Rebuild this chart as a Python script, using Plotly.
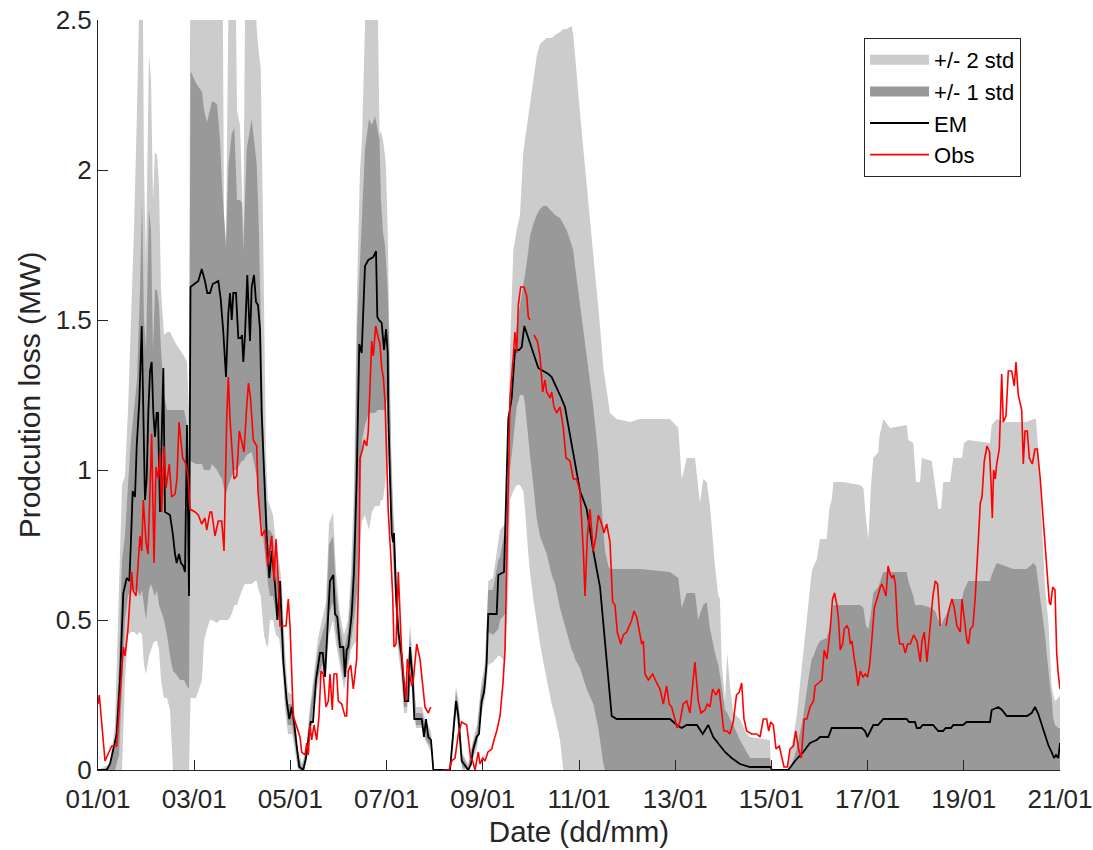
import plotly.graph_objects as go

# ---------------- data (x in days since 01/01, values in MW) ----------------
tick_days = [0, 2, 4, 6, 8, 10, 12, 14, 16, 18, 20]
tick_labels = ["01/01", "03/01", "05/01", "07/01", "09/01", "11/01",
               "13/01", "15/01", "17/01", "19/01", "21/01"]

em_day = [0, 0.181, 0.249, 0.353, 0.389, 0.457, 0.526, 0.597, 0.651, 0.680, 0.721, 0.769, 0.805, 0.859,
          0.909, 0.977, 1.012, 1.046, 1.081, 1.116, 1.150, 1.185, 1.220, 1.247, 1.289, 1.358, 1.393, 1.497,
          1.553, 1.601, 1.636, 1.684, 1.726, 1.773, 1.809, 1.850, 1.892, 1.923, 2.017, 2.085, 2.156, 2.224,
          2.272, 2.328, 2.385, 2.501, 2.551, 2.605, 2.661, 2.709, 2.744, 2.780, 2.813, 2.869, 2.917, 2.973,
          2.994, 3.021, 3.056, 3.104, 3.160, 3.195, 3.243, 3.285, 3.326, 3.368, 3.403, 3.451, 3.507, 3.561,
          3.611, 3.680, 3.728, 3.784, 3.819, 3.852, 3.923, 3.977, 4.027, 4.075, 4.131, 4.185, 4.268, 4.324,
          4.372, 4.422, 4.470, 4.532, 4.615, 4.672, 4.719, 4.767, 4.823, 4.892, 4.927, 4.975, 5.031, 5.100,
          5.135, 5.170, 5.204, 5.274, 5.322, 5.378, 5.412, 5.432, 5.482, 5.551, 5.620, 5.723, 5.780, 5.807,
          5.842, 5.898, 5.946, 5.988, 6.023, 6.035, 6.071, 6.106, 6.133, 6.154, 6.196, 6.243, 6.314, 6.383,
          6.451, 6.486, 6.543, 6.576, 6.730, 6.778, 6.819, 6.867, 6.923, 6.971, 7.318, 7.387, 7.443, 7.491,
          7.561, 7.609, 7.699, 7.755, 7.803, 7.873, 7.921, 7.977, 8.025, 8.046, 8.081, 8.114, 8.289, 8.322,
          8.441, 8.483, 8.530, 8.601, 8.669, 8.753, 8.809, 8.863, 8.946, 9.050, 9.154, 9.258, 9.362, 9.432,
          9.522, 9.605, 9.709, 9.813, 9.917, 10.021, 10.160, 10.297, 10.437, 10.541, 10.609, 10.680, 10.784,
          11.268, 11.476, 11.892, 12.031, 12.135, 12.239, 12.453, 12.572, 12.688, 12.792, 12.931, 13.035,
          13.174, 13.347, 13.555, 13.986, 14.006, 14.351, 14.491, 14.663, 14.803, 14.942, 15.010, 15.183,
          15.254, 15.877, 15.946, 15.994, 16.119, 16.216, 16.327, 16.813, 16.861, 16.985, 17.021, 17.090,
          17.145, 17.360, 17.470, 17.568, 17.624, 17.734, 17.782, 17.983, 18.060, 18.545, 18.580, 18.717,
          18.794, 18.892, 19.168, 19.313, 19.411, 19.480, 19.542, 19.619, 19.688, 19.764, 19.827, 19.875,
          19.917, 19.964, 20.0]
em_mw = [0, 0, 0.02, 0.10, 0.12, 0.30, 0.59, 0.64, 0.63, 0.74, 0.93, 0.91, 1.08, 1.23,
         1.48, 0.90, 0.97, 1.19, 1.33, 1.36, 1.19, 1.11, 1.19, 1.19, 0.86, 1.34, 0.86, 0.85,
         0.79, 0.72, 0.69, 0.72, 0.69, 0.68, 0.66, 1.15, 0.58, 1.61, 1.62, 1.63, 1.67, 1.63,
         1.59, 1.59, 1.62, 1.63, 1.57, 1.46, 1.31, 1.52, 1.59, 1.50, 1.59, 1.59, 1.44, 1.44,
         1.45, 1.36, 1.45, 1.65, 1.43, 1.61, 1.65, 1.56, 1.55, 1.47, 1.19, 0.97, 0.78, 0.64,
         0.73, 0.62, 0.50, 0.63, 0.50, 0.36, 0.23, 0.17, 0.21, 0.16, 0.08, 0.01, 0.00, 0.04,
         0.10, 0.16, 0.16, 0.30, 0.39, 0.39, 0.31, 0.47, 0.63, 0.65, 0.52, 0.51, 0.41, 0.41,
         0.31, 0.40, 0.41, 0.52, 0.66, 0.97, 1.30, 1.42, 1.39, 1.68, 1.70, 1.71, 1.73, 1.51,
         1.50, 1.49, 1.40, 1.47, 1.39, 1.19, 0.97, 0.79, 0.76, 0.79, 0.58, 0.46, 0.38, 0.23,
         0.23, 0.41, 0.30, 0.17, 0.17, 0.11, 0.17, 0.11, 0.10, 0.00, 0.00, 0.12, 0.23, 0.18,
         0.03, 0.02, 0.00, 0.02, 0.07, 0.11, 0.12, 0.23, 0.26, 0.29, 0.36, 0.52, 0.52, 0.65,
         0.66, 0.90, 1.17, 1.24, 1.40, 1.40, 1.41, 1.48, 1.44, 1.39, 1.34, 1.33, 1.32, 1.31,
         1.28, 1.25, 1.21, 1.12, 1.02, 0.93, 0.87, 0.73, 0.61, 0.42, 0.31, 0.18, 0.17,
         0.17, 0.17, 0.17, 0.15, 0.14, 0.15, 0.15, 0.12, 0.15, 0.11, 0.08, 0.06,
         0.04, 0.02, 0.01, 0.01, 0.00, 0.00, 0.03, 0.06, 0.09, 0.10, 0.11, 0.11,
         0.14, 0.14, 0.13, 0.11, 0.15, 0.15, 0.17, 0.17, 0.16, 0.16, 0.14, 0.14,
         0.15, 0.15, 0.13, 0.13, 0.14, 0.14, 0.15, 0.15, 0.16, 0.16, 0.20, 0.21,
         0.20, 0.18, 0.18, 0.18, 0.19, 0.21, 0.19, 0.15, 0.12, 0.08, 0.06, 0.04,
         0.05, 0.04, 0.09]

obs_day = [0, 0.027, 0.146, 0.285, 0.389, 0.457, 0.526, 0.561, 0.624, 0.701, 0.728, 0.790, 0.873, 0.909,
           0.942, 0.998, 1.040, 1.116, 1.164, 1.206, 1.254, 1.289, 1.324, 1.372, 1.414, 1.482, 1.532,
           1.601, 1.642, 1.684, 1.761, 1.830, 1.871, 1.913, 2.017, 2.085, 2.156, 2.224, 2.260, 2.328,
           2.364, 2.432, 2.501, 2.572, 2.620, 2.676, 2.709, 2.744, 2.827, 2.884, 2.938, 3.008, 3.035,
           3.091, 3.129, 3.170, 3.229, 3.299, 3.326, 3.403, 3.472, 3.528, 3.576, 3.611, 3.659, 3.701,
           3.748, 3.784, 3.852, 3.909, 3.956, 3.992, 4.060, 4.131, 4.200, 4.235, 4.304, 4.339, 4.372,
           4.407, 4.443, 4.491, 4.547, 4.595, 4.636, 4.684, 4.740, 4.788, 4.823, 4.871, 4.906, 4.963,
           4.996, 5.066, 5.135, 5.170, 5.204, 5.254, 5.308, 5.378, 5.432, 5.447, 5.503, 5.536, 5.586,
           5.620, 5.640, 5.690, 5.723, 5.773, 5.827, 5.863, 5.898, 5.931, 5.967, 6.002, 6.035, 6.085,
           6.127, 6.154, 6.196, 6.243, 6.279, 6.314, 6.362, 6.403, 6.430, 6.472, 6.522, 6.555, 6.626,
           6.694, 6.751, 6.798, 6.867, 6.917, 7.05,
           7.179, 7.297, 7.354, 7.422, 7.491, 7.561, 7.665, 7.699, 7.748, 7.790, 7.838, 7.906, 7.942,
           7.998, 8.046, 8.108, 8.185, 8.233, 8.289, 8.358, 8.420, 8.462, 8.497, 8.566, 8.634, 8.669,
           8.705, 8.738, 8.788, 8.857, 8.913, 8.946, 8.981, 9.02,
           9.064, 9.133, 9.189, 9.245, 9.293, 9.328, 9.397, 9.432, 9.480, 9.536, 9.605, 9.674, 9.730,
           9.813, 9.882, 9.952, 10.021, 10.090, 10.125, 10.173, 10.229, 10.297, 10.353, 10.401, 10.472,
           10.520, 10.576, 10.644, 10.700, 10.748, 10.796, 10.867, 10.921, 10.992, 11.096, 11.143,
           11.200, 11.304, 11.337, 11.372, 11.441, 11.532, 11.615, 11.684, 11.753, 11.822, 11.876,
           11.926, 11.994, 12.042, 12.098, 12.166, 12.239, 12.306, 12.410, 12.479, 12.535, 12.618,
           12.666, 12.722, 12.778, 12.844, 12.913, 12.963, 13.011, 13.080, 13.136, 13.207, 13.274,
           13.332, 13.382, 13.430, 13.486, 13.590, 13.694, 13.763, 13.832, 13.902, 13.944, 13.986,
           14.040, 14.096, 14.164, 14.263, 14.333, 14.389, 14.458, 14.508, 14.564, 14.620, 14.682,
           14.738, 14.803, 14.875, 14.910, 14.979, 15.050, 15.098, 15.154, 15.223, 15.271, 15.313,
           15.362, 15.396, 15.432, 15.480, 15.515, 15.571, 15.604, 15.640, 15.675, 15.723, 15.765,
           15.800, 15.848, 15.904, 15.952, 16.000, 16.042, 16.091, 16.139, 16.195, 16.264, 16.299,
           16.333, 16.383, 16.425, 16.473, 16.508, 16.542, 16.577, 16.625, 16.667, 16.736, 16.784,
           16.832, 16.888, 16.957, 17.026, 17.095, 17.130, 17.178, 17.234, 17.302, 17.358, 17.406,
           17.455, 17.511, 17.57,
           17.630, 17.684, 17.754, 17.802, 17.858, 17.927, 17.962, 18.010, 18.066, 18.100, 18.135,
           18.191, 18.239, 18.287, 18.343, 18.378, 18.426, 18.482, 18.536, 18.565, 18.592, 18.620,
           18.655, 18.684, 18.738, 18.788, 18.821, 18.877, 18.925, 18.996, 19.050, 19.085, 19.133,
           19.204, 19.237, 19.272, 19.320, 19.362, 19.391, 19.424, 19.480, 19.528, 19.584, 19.653,
           19.723, 19.778, 19.806, 19.848, 19.896, 19.931, 19.964, 20.0]
obs_mw = [0.22, 0.25, 0.03, 0.08, 0.08, 0.23, 0.41, 0.38, 0.47, 0.66, 0.60, 0.58, 0.78, 0.73,
          0.90, 0.76, 0.72, 1.12, 0.69, 1.01, 0.97, 1.06, 0.86, 1.08, 0.94, 1.02, 0.91,
          0.92, 0.97, 1.16, 1.04, 1.02, 0.98, 0.87, 0.86, 0.85, 0.82, 0.84, 0.80, 0.86,
          0.86, 0.78, 0.83, 0.83, 0.73, 1.17, 1.31, 1.17, 0.97, 0.98, 1.13, 1.08, 1.06,
          1.21, 1.29, 1.24, 1.10, 1.08, 0.93, 0.78, 0.80, 0.68, 0.73, 0.78, 0.63, 0.77,
          0.63, 0.48, 0.48, 0.48, 0.57, 0.48, 0.18, 0.14, 0.11, 0.06, 0.05, 0.09, 0.05,
          0.15, 0.10, 0.15, 0.10, 0.18, 0.33, 0.32, 0.21, 0.23, 0.32, 0.20, 0.32, 0.32,
          0.23, 0.22, 0.18, 0.18, 0.33, 0.35, 0.27, 0.37, 0.74, 1.04, 1.07, 1.10, 1.08,
          1.13, 1.23, 1.43, 1.38, 1.48, 1.44, 1.42, 1.34, 1.31, 1.23, 1.02, 0.86, 0.72,
          0.58, 0.41, 0.42, 0.66, 0.54, 0.39, 0.30, 0.23, 0.37, 0.33, 0.28, 0.30, 0.42,
          0.37, 0.27, 0.21, 0.19, 0.21, None,
          0.00, 0.00, 0.03, 0.04, 0.12, 0.16, 0.15, 0.11, 0.04, 0.03, 0.00, 0.06, 0.02,
          0.04, 0.03, 0.06, 0.07, 0.10, 0.13, 0.18, 0.29, 0.40, 0.70, 1.24, 1.38, 1.46,
          1.39, 1.55, 1.61, 1.61, 1.58, 1.51, 1.50, None,
          1.45, 1.43, 1.38, 1.26, 1.30, 1.26, 1.24, 1.26, 1.21, 1.19, 1.21, 1.14, 1.04,
          1.03, 0.97, 0.97, 0.93, 0.73, 0.58, 0.78, 0.87, 0.73, 0.78, 0.85, 0.82,
          0.79, 0.82, 0.76, 0.56, 0.55, 0.46, 0.42, 0.45, 0.46, 0.50, 0.53,
          0.51, 0.42, 0.43, 0.32, 0.30, 0.32, 0.29, 0.27, 0.22, 0.28, 0.22,
          0.21, 0.17, 0.14, 0.16, 0.22, 0.23, 0.19, 0.36, 0.23, 0.19, 0.20,
          0.22, 0.21, 0.27, 0.25, 0.27, 0.19, 0.13, 0.13, 0.12, 0.16, 0.25,
          0.26, 0.29, 0.17, 0.13, 0.12, 0.12, 0.11, 0.17, 0.17, 0.13, 0.16,
          0.15, 0.07, 0.08, 0.01, 0.01, 0.07, 0.08, 0.13, 0.07, 0.04, 0.17,
          0.17, 0.21, 0.23, 0.28, 0.29, 0.30, 0.40, 0.37, 0.47, 0.57, 0.59,
          0.55, 0.50, 0.40, 0.42, 0.47, 0.48, 0.47, 0.42, 0.43, 0.37, 0.33,
          0.28, 0.33, 0.31, 0.32, 0.31, 0.35, 0.44, 0.54, 0.57, 0.61, 0.62,
          0.60, 0.58, 0.68, 0.65, 0.64, 0.65, 0.62, 0.47, 0.42, 0.42, 0.39,
          0.42, 0.42, 0.45, 0.43, 0.36, 0.43, 0.46, 0.36, 0.47, 0.58, 0.63,
          0.62, 0.48, None,
          0.48, 0.53, 0.57, 0.54, 0.48, 0.46, 0.57, 0.50, 0.43, 0.42, 0.47,
          0.48, 0.58, 0.72, 0.89, 0.91, 1.03, 1.08, 1.06, 0.96, 0.84, 1.00,
          0.97, 1.02, 1.07, 1.32, 1.16, 1.18, 1.33, 1.33, 1.28, 1.36, 1.25,
          1.20, 1.02, 1.13, 1.13, 1.04, 1.03, 1.02, 1.07, 1.07, 0.98, 0.83,
          0.67, 0.56, 0.55, 0.61, 0.60, 0.39, 0.32, 0.27]

band_day = [0, 0.249, 0.353, 0.437, 0.499, 0.561, 0.624, 0.686, 0.748, 0.811, 0.873, 0.915, 0.956,
            0.998, 1.060, 1.102, 1.143, 1.185, 1.227, 1.268, 1.310, 1.372, 1.435, 1.497, 1.559,
            1.622, 1.705, 1.788, 1.850, 1.892, 1.923, 2.037, 2.162, 2.204, 2.266, 2.328, 2.370,
            2.474, 2.536, 2.578, 2.620, 2.661, 2.709, 2.780, 2.834, 2.869, 2.890, 2.952, 2.994,
            3.021, 3.056, 3.091, 3.195, 3.264, 3.299, 3.337, 3.383, 3.424, 3.451, 3.493, 3.534,
            3.576, 3.638, 3.701, 3.763, 3.825, 3.888, 3.950, 4.033, 4.096, 4.158, 4.241, 4.324,
            4.407, 4.491, 4.574, 4.657, 4.740, 4.802, 4.886, 4.948, 5.031, 5.114, 5.197, 5.260,
            5.322, 5.385, 5.447, 5.489, 5.551, 5.634, 5.696, 5.759, 5.821, 5.852, 5.883, 5.925,
            5.966, 5.987, 6.023, 6.049, 6.091, 6.133, 6.195, 6.237, 6.299, 6.362, 6.424, 6.486,
            6.549, 6.611, 6.736, 6.798, 6.861, 6.923, 6.985, 7.318, 7.380, 7.443, 7.505, 7.568,
            7.692, 7.796, 7.879, 7.962, 8.046, 8.114, 8.212, 8.322, 8.358, 8.462, 8.530, 8.566,
            8.634, 8.705, 8.773, 8.842, 8.877, 8.946, 8.981, 9.050, 9.121, 9.189, 9.258, 9.328,
            9.432, 9.501, 9.605, 9.674, 9.744, 9.848, 9.882, 9.917, 10.021, 10.160, 10.297,
            10.401, 10.437, 10.506, 10.541, 10.576, 10.609, 10.644, 10.784, 11.060, 11.268,
            11.892, 12.065, 12.135, 12.183, 12.239, 12.412, 12.479, 12.515, 12.583, 12.655,
            12.723, 12.764, 12.827, 12.896, 12.931, 12.966, 13.035, 13.082, 13.139, 13.207,
            13.347, 13.486, 13.555, 13.970, 13.991, 14.345, 14.387, 14.526, 14.663, 14.767,
            14.838, 14.875, 14.942, 15.010, 15.150, 15.204, 15.254, 15.290, 15.492, 15.845,
            15.914, 15.969, 16.017, 16.067, 16.119, 16.223, 16.244, 16.327, 16.465, 16.813,
            16.846, 16.950, 16.985, 17.006, 17.090, 17.126, 17.333, 17.402, 17.470, 17.526,
            17.574, 17.713, 17.782, 17.963, 18.004, 18.093, 18.545, 18.580, 18.684, 18.857,
            19.030, 19.308, 19.445, 19.501, 19.549, 19.584, 19.619, 19.653, 19.688, 19.723,
            19.757, 19.792, 19.827, 19.861, 19.896, 19.964, 20.0]
lo2 = [0, 0, 0, 0, 0, 0.30, 0.45, 0.46, 0.46, 0.45, 0.46, 0.45, 0.35,
       0.32, 0.38, 0.40, 0.42, 0.43, 0.43, 0.40, 0.30, 0.24, 0.24, 0.20, 0,
       0, 0, 0, 0, 0, 0.24, 0.24, 0.30, 0.43, 0.47, 0.50, 0.50,
       0.49, 0.50, 0.50, 0.50, 0.50, 0.50, 0.52, 0.55, 0.55, 0.55, 0.58, 0.60,
       0.61, 0.62, 0.62, 0.62, 0.63, 0.63, 0.60, 0.58, 0.50, 0.45, 0.42, 0.41,
       0.50, 0.50, 0.45, 0.44, 0.36, 0.20, 0.12, 0.12, 0.06, 0, 0, 0.02,
       0.11, 0.20, 0.28, 0.32, 0.32, 0.45, 0.50, 0.42, 0.35, 0.27, 0.33, 0.40,
       0.42, 0.43, 0.75, 0.83, 0.85, 0.80, 0.86, 0.88, 0.88, 0.88, 0.90, 0.90,
       0.95, 1.00, 1.05, 1.00, 0.85, 0.68, 0.52, 0.40, 0.32, 0.19, 0.19, 0.33,
       0.22, 0.14, 0.14, 0.10, 0.08, 0.06, 0, 0, 0.08, 0.19, 0.12, 0,
       0, 0.04, 0.07, 0.18, 0.24, 0.35, 0.36, 0.38, 0.38, 0.36, 0.60, 0.90,
       0.93, 0.95, 0.95, 0.93, 0.87, 0.72, 0.66, 0.57, 0.49, 0.42, 0.36, 0.30,
       0.22, 0.18, 0.10, 0, 0, 0, 0, 0, 0, 0, 0,
       0, 0, 0, 0, 0, 0, 0, 0, 0, 0,
       0, 0, 0, 0, 0, 0, 0, 0, 0, 0,
       0, 0, 0, 0, 0, 0, 0, 0, 0, 0,
       0, 0, 0, 0, 0, 0, 0, 0, 0, 0,
       0, 0, 0, 0, 0, 0, 0, 0, 0, 0,
       0, 0, 0, 0, 0, 0, 0, 0, 0, 0,
       0, 0, 0, 0, 0, 0, 0, 0, 0, 0,
       0, 0, 0, 0, 0, 0, 0, 0, 0, 0,
       0, 0, 0, 0, 0, 0, 0, 0, 0, 0,
       0, 0, 0, 0, 0, 0, 0]
lo1 = [0, 0, 0, 0.05, 0.25, 0.50, 0.58, 0.60, 0.60, 0.60, 0.58, 0.60, 0.55,
       0.50, 0.60, 0.62, 0.60, 0.58, 0.60, 0.55, 0.53, 0.50, 0.45, 0.38, 0.33,
       0.32, 0.30, 0.30, 0.28, 0.27, 1.03, 1.02, 1.02, 1.00, 1.00, 1.00, 1.02,
       1.00, 0.98, 0.97, 0.94, 0.92, 0.95, 0.98, 1.00, 1.00, 1.00, 1.02, 1.03,
       1.03, 1.04, 1.05, 1.06, 1.00, 0.98, 0.90, 0.85, 0.80, 0.75, 0.68, 0.62,
       0.58, 0.58, 0.52, 0.50, 0.42, 0.24, 0.15, 0.15, 0.09, 0.01, 0, 0.03,
       0.13, 0.23, 0.31, 0.35, 0.36, 0.52, 0.56, 0.46, 0.38, 0.30, 0.36, 0.44,
       0.50, 0.60, 0.95, 1.10, 1.15, 1.19, 1.19, 1.19, 1.20, 1.20, 1.20, 1.20,
       1.20, 1.22, 1.25, 1.12, 0.92, 0.73, 0.56, 0.43, 0.35, 0.21, 0.21, 0.36,
       0.25, 0.15, 0.15, 0.11, 0.09, 0.08, 0, 0, 0.10, 0.21, 0.14, 0.01,
       0, 0.05, 0.09, 0.20, 0.26, 0.46, 0.45, 0.47, 0.50, 0.52, 0.80, 1.00,
       1.10, 1.21, 1.25, 1.25, 1.22, 1.10, 1.05, 0.95, 0.84, 0.78, 0.75, 0.72,
       0.65, 0.62, 0.54, 0.50, 0.46, 0.40, 0.39, 0.37, 0.34, 0.27, 0.22,
       0.14, 0.10, 0.02, 0, 0, 0, 0, 0, 0, 0,
       0, 0, 0, 0, 0, 0, 0, 0, 0, 0,
       0, 0, 0, 0, 0, 0, 0, 0, 0, 0,
       0, 0, 0, 0, 0, 0, 0, 0, 0, 0,
       0, 0, 0, 0, 0, 0, 0, 0, 0, 0,
       0, 0, 0, 0, 0, 0, 0, 0, 0, 0,
       0, 0, 0, 0, 0, 0, 0, 0, 0, 0,
       0, 0, 0, 0, 0, 0, 0, 0, 0, 0,
       0, 0, 0, 0, 0, 0, 0, 0, 0, 0,
       0, 0, 0, 0, 0, 0, 0, 0, 0, 0,
       0, 0, 0, 0, 0, 0, 0]
hi1 = [0, 0.01, 0.10, 0.35, 0.70, 0.78, 0.95, 1.10, 1.20, 1.30, 1.60, 1.90, 1.50,
       1.40, 1.87, 1.80, 1.40, 1.60, 1.60, 1.55, 1.40, 1.25, 1.20, 1.20, 1.20,
       1.20, 1.20, 1.20, 1.15, 1.00, 2.33, 2.29, 2.26, 2.20, 2.16, 2.20, 2.23,
       2.22, 2.10, 1.95, 1.82, 1.74, 2.01, 2.12, 2.14, 2.00, 1.90, 1.90, 1.89,
       1.73, 1.90, 2.07, 2.17, 2.07, 2.02, 1.85, 1.46, 1.23, 1.05, 0.90, 0.80,
       0.80, 0.78, 0.68, 0.64, 0.56, 0.34, 0.22, 0.22, 0.15, 0.05, 0.01, 0.06,
       0.19, 0.30, 0.40, 0.45, 0.50, 0.75, 0.78, 0.60, 0.48, 0.40, 0.46, 0.60,
       0.80, 1.47, 1.70, 1.80, 2.07, 2.17, 2.15, 2.18, 2.12, 2.10, 1.90, 1.79,
       1.75, 1.70, 1.60, 1.45, 1.05, 0.85, 0.68, 0.52, 0.42, 0.27, 0.27, 0.45,
       0.33, 0.19, 0.19, 0.15, 0.13, 0.11, 0, 0, 0.14, 0.26, 0.20, 0.05,
       0.01, 0.09, 0.13, 0.26, 0.33, 0.60, 0.60, 0.70, 0.71, 0.80, 1.00, 1.20,
       1.35, 1.48, 1.55, 1.61, 1.65, 1.73, 1.78, 1.82, 1.85, 1.87, 1.88, 1.88,
       1.86, 1.85, 1.84, 1.82, 1.80, 1.75, 1.73, 1.68, 1.55, 1.38, 1.21,
       1.05, 0.95, 0.80, 0.73, 0.70, 0.68, 0.67, 0.67, 0.67, 0.67,
       0.66, 0.64, 0.54, 0.56, 0.59, 0.59, 0.50, 0.52, 0.55, 0.56,
       0.47, 0.44, 0.39, 0.35, 0.32, 0.28, 0.20, 0.19, 0.17, 0.15,
       0.10, 0.06, 0.04, 0.04, 0, 0, 0, 0.07, 0.18, 0.30,
       0.37, 0.38, 0.41, 0.43, 0.44, 0.47, 0.52, 0.55, 0.55, 0.55,
       0.54, 0.48, 0.47, 0.52, 0.59, 0.61, 0.62, 0.66, 0.66, 0.66,
       0.63, 0.58, 0.55, 0.55, 0.55, 0.55, 0.54, 0.53, 0.50, 0.48,
       0.50, 0.54, 0.57, 0.57, 0.60, 0.63, 0.63, 0.65, 0.69, 0.68,
       0.67, 0.67, 0.69, 0.68, 0.62, 0.58, 0.54, 0.50, 0.45, 0.39,
       0.33, 0.28, 0.24, 0.17, 0.15, 0.14, 0.14]
hi2 = [0, 0.02, 0.15, 0.60, 0.95, 0.98, 1.20, 1.50, 1.80, 2.20, 2.60, 3.00, 2.00,
       1.70, 2.39, 2.30, 1.90, 2.06, 2.05, 1.95, 1.60, 1.45, 1.46, 1.46, 1.44,
       1.42, 1.40, 1.38, 1.36, 1.20, 3.00, 3.00, 3.00, 3.00, 3.00, 3.00, 3.00,
       3.00, 3.00, 3.00, 1.85, 1.76, 2.50, 3.00, 3.00, 2.60, 2.20, 2.15, 1.95,
       1.80, 2.50, 3.00, 3.00, 2.60, 2.47, 2.40, 2.34, 1.90, 1.50, 1.05, 0.90,
       0.88, 0.85, 0.75, 0.70, 0.62, 0.40, 0.26, 0.25, 0.18, 0.07, 0.02, 0.07,
       0.21, 0.33, 0.44, 0.50, 0.56, 0.82, 0.86, 0.66, 0.52, 0.45, 0.50, 0.66,
       0.95, 1.60, 2.00, 2.10, 2.60, 3.00, 3.00, 3.00, 2.50, 2.12, 2.13, 2.10,
       2.05, 2.01, 1.80, 1.50, 1.10, 0.90, 0.72, 0.56, 0.45, 0.30, 0.29, 0.49,
       0.36, 0.21, 0.21, 0.17, 0.15, 0.13, 0, 0, 0.16, 0.28, 0.22, 0.06,
       0.02, 0.10, 0.15, 0.28, 0.36, 0.63, 0.64, 0.75, 0.80, 0.82, 1.10, 1.40,
       1.73, 1.80, 1.85, 2.06, 2.10, 2.19, 2.23, 2.31, 2.38, 2.42, 2.43, 2.44,
       2.44, 2.45, 2.46, 2.47, 2.47, 2.48, 2.45, 2.38, 2.19, 1.95, 1.72,
       1.55, 1.48, 1.34, 1.30, 1.27, 1.22, 1.19, 1.17, 1.16, 1.17,
       1.17, 1.14, 0.97, 1.00, 1.04, 1.04, 0.93, 0.89, 0.97, 0.96,
       0.88, 0.80, 0.68, 0.58, 0.57, 0.36, 0.23, 0.39, 0.28, 0.19,
       0.17, 0.12, 0.11, 0.10, 0, 0, 0.05, 0.18, 0.39, 0.56,
       0.66, 0.68, 0.70, 0.77, 0.77, 0.87, 0.90, 0.96, 0.96, 0.95,
       0.94, 0.83, 0.77, 0.94, 1.04, 1.06, 1.11, 1.17, 1.14, 1.15,
       1.10, 1.09, 1.02, 0.96, 0.96, 1.04, 1.03, 0.94, 0.87, 0.87,
       0.96, 0.96, 1.04, 1.04, 1.09, 1.10, 1.09, 1.15, 1.17, 1.16,
       1.16, 1.16, 1.17, 1.17, 1.06, 0.95, 0.83, 0.72, 0.61, 0.55,
       0.50, 0.39, 0.28, 0.25, 0.23, 0.24, 0.25]

# ---------------- styling ----------------
LIGHT = "#cccccc"
DARK = "#999999"
AX = "#262626"
FONT = "Liberation Sans, Arial, sans-serif"

fig = go.Figure()

# +/- 2 std band
fig.add_trace(go.Scatter(x=band_day, y=lo2, mode="lines", line=dict(width=0, color=LIGHT),
                         showlegend=False, hoverinfo="skip"))
fig.add_trace(go.Scatter(x=band_day, y=hi2, mode="lines", line=dict(width=0, color=LIGHT),
                         fill="tonexty", fillcolor=LIGHT, showlegend=False, hoverinfo="skip"))
# +/- 1 std band
fig.add_trace(go.Scatter(x=band_day, y=lo1, mode="lines", line=dict(width=0, color=DARK),
                         showlegend=False, hoverinfo="skip"))
fig.add_trace(go.Scatter(x=band_day, y=hi1, mode="lines", line=dict(width=0, color=DARK),
                         fill="tonexty", fillcolor=DARK, showlegend=False, hoverinfo="skip"))

# legend-only entries for the bands
fig.add_trace(go.Scatter(x=[None], y=[None], mode="lines", name="+/- 2 std",
                         line=dict(color=LIGHT, width=23)))
fig.add_trace(go.Scatter(x=[None], y=[None], mode="lines", name="+/- 1 std",
                         line=dict(color=DARK, width=23)))

fig.add_trace(go.Scatter(x=em_day, y=em_mw, mode="lines", name="EM",
                         line=dict(color="black", width=1.8)))
fig.add_trace(go.Scatter(x=obs_day, y=obs_mw, mode="lines", name="Obs",
                         line=dict(color="red", width=1.6), connectgaps=False))

fig.update_layout(
    width=1093, height=850,
    margin=dict(l=98, r=33, t=20, b=80),
    plot_bgcolor="white", paper_bgcolor="white",
    font=dict(family=FONT, color=AX, size=26),
    showlegend=True,
    legend=dict(x=0.7963, y=0.976, xanchor="left", yanchor="top", traceorder="normal",
                bgcolor="white", bordercolor=AX, borderwidth=1,
                font=dict(size=22, color="black", family=FONT),
                itemwidth=59, tracegroupgap=0, entrywidth=100, entrywidthmode="pixels"),
    xaxis=dict(range=[0, 20], tickvals=tick_days, ticktext=tick_labels,
               ticks="inside", ticklen=10, tickcolor=AX, tickwidth=1,
               showline=True, linecolor=AX, linewidth=1, showgrid=False, zeroline=False,
               automargin=False, ticklabeloverflow="allow", ticklabelstandoff=6,
               tickfont=dict(size=26, color=AX, family=FONT),
               title=dict(text="Date (dd/mm)", font=dict(size=29.5, color=AX, family=FONT), standoff=8)),
    yaxis=dict(range=[0, 2.5], tickvals=[0, 0.5, 1, 1.5, 2, 2.5],
               ticktext=["0", "0.5", "1", "1.5", "2", "2.5"],
               ticks="inside", ticklen=10, tickcolor=AX, tickwidth=1,
               showline=True, linecolor=AX, linewidth=1, showgrid=False, zeroline=False,
               automargin=False, ticklabeloverflow="allow",
               tickfont=dict(size=26, color=AX, family=FONT),
               title=dict(text="Prodcution loss (MW)", font=dict(size=30, color=AX, family=FONT), standoff=6)),
)

fig.write_html("out.html", config={"displayModeBar": False},
               post_script="document.body.style.margin='0';document.body.style.overflow='hidden';")
